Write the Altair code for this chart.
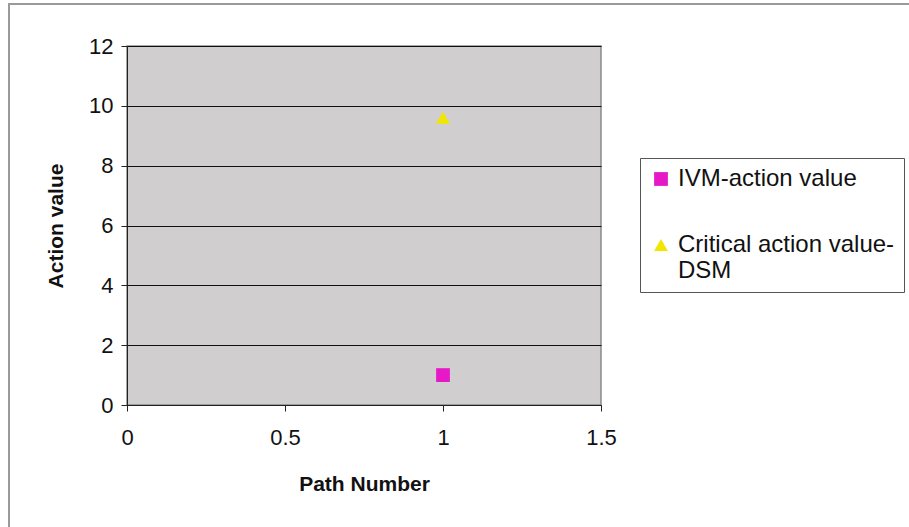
import altair as alt
import pandas as pd

# Series plotted against path number
series_names = ["IVM-action value", "Critical action value-DSM"]
path_numbers = [1, 1]
action_values = [1.0, 9.6]
series_shapes = ["square", "triangle-up"]
series_colors = ["#e619c8", "#f2e600"]

x_ticks = [0, 0.5, 1, 1.5]
y_ticks = [0, 2, 4, 6, 8, 10, 12]

df = pd.DataFrame({
    "series": series_names,
    "path": path_numbers,
    "value": action_values,
})

FONT = "Liberation Sans"

# the long series name wraps onto two lines
legend_label = (
    "datum.label == 'Critical action value-DSM' "
    "? ['Critical action value-', 'DSM'] : datum.label"
)

points = alt.Chart(df).mark_point(filled=True, size=190, opacity=1).encode(
    x=alt.X("path:Q", title="Path Number",
            scale=alt.Scale(domain=[0, 1.5], nice=False),
            axis=alt.Axis(values=x_ticks, format="~g", grid=False,
                          labelFlush=False, tickSize=6, tickColor="#222",
                          domainColor="#222", labelPadding=16,
                          titlePadding=25)),
    y=alt.Y("value:Q", title="Action value",
            scale=alt.Scale(domain=[0, 12], nice=False),
            axis=alt.Axis(values=y_ticks, grid=True, gridColor="#111",
                          gridWidth=1, tickSize=6, tickColor="#222",
                          domainColor="#222", labelPadding=8,
                          titlePadding=22)),
    shape=alt.Shape("series:N", sort=series_names,
                    scale=alt.Scale(domain=series_names, range=series_shapes),
                    legend=alt.Legend(
                        title=None, orient="none", legendX=513, legendY=112,
                        strokeColor="#555", padding=9, rowPadding=42,
                        symbolSize=190, symbolStrokeWidth=0,
                        labelFontSize=24, labelFont=FONT, labelColor="#111",
                        labelLimit=340, labelOffset=5,
                        labelExpr=legend_label, labelBaseline="middle",
                        cornerRadius=0)),
    color=alt.Color("series:N", sort=series_names,
                    scale=alt.Scale(domain=series_names, range=series_colors)),
)

# Grey frame that surrounds the whole figure
frame = alt.Chart(pd.DataFrame({"k": [0]})).mark_rect(
    fill=None, stroke="#9a9a9a", strokeWidth=2, clip=False
).encode(
    x=alt.value(-118), x2=alt.value(820),
    y=alt.value(-42), y2=alt.value(560),
)

chart = alt.layer(frame, points).properties(
    width=474, height=359,
    padding={"left": 127, "top": 46, "right": 308, "bottom": 122},
    autosize=alt.AutoSizeParams(type="none"),
    background="white",
).configure_view(
    fill="#d0cece", stroke="#8a8a8a", strokeWidth=1.5,
).configure_axis(
    labelFont=FONT, labelFontSize=22, labelColor="#111",
    titleFont=FONT, titleFontSize=21, titleFontWeight="bold",
    titleColor="#111",
)

chart.save("out.html", embed_options={"renderer": "svg", "actions": False})
